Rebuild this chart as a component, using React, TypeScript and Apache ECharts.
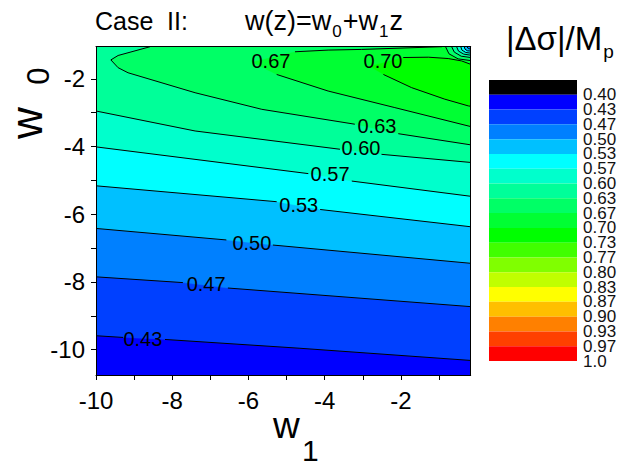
import React, { useEffect, useRef } from "react";
import * as echarts from "echarts";

const FONT = "Liberation Sans, Arial, Helvetica, sans-serif";

const W1_MIN = -10;
const W1_MAX = -0.17;
const W0_MIN = -10.75;
const W0_MAX = -1.05;

const xTickLabels = [-10, -8, -6, -4, -2];
const xTicks = [-10, -9, -8, -7, -6, -5, -4, -3, -2, -1];
const yTickLabels = [-10, -8, -6, -4, -2];
const yTicks = [-10, -9, -8, -7, -6, -5, -4, -3, -2];

// colour bands (top of colour bar first): below 0.40, 0.40-0.43, ... 0.97-1.0
const bandColors = [
  "#000000", "#0000ff", "#0040ff", "#0080ff", "#00c0ff", "#00ffff",
  "#00ffcc", "#00ff99", "#00ff66", "#00ff33", "#00ff00", "#40ff00",
  "#80ff00", "#c0ff00", "#ffff00", "#ffbf00", "#ff8000", "#ff4000", "#ff0000",
];
// labels sit on the band boundaries 1..19
const colorbarLabels = [
  "0.40", "0.43", "0.47", "0.50", "0.53", "0.57", "0.60", "0.63", "0.67",
  "0.70", "0.73", "0.77", "0.80", "0.83", "0.87", "0.90", "0.93", "0.97", "1.0",
];

// contour levels drawn in the map
const levelText = ["0.43", "0.47", "0.50", "0.53", "0.57", "0.60", "0.63", "0.67", "0.70"];

// contour lines, points as [w1, w0]
const line043 = [[-10, -9.59], [-9.29, -9.64], [-8.19, -9.7], [-4.65, -9.96], [-0.17, -10.32]];
const line047 = [[-10, -7.85], [-7.72, -8.02], [-6.54, -8.18], [-0.17, -8.73]];
const line050 = [[-10, -6.42], [-6.58, -6.76], [-5.36, -6.91], [-0.17, -7.45]];
const line053 = [[-10, -5.16], [-5.26, -5.63], [-4.12, -5.86], [-0.17, -6.37]];
const line057 = [[-10, -4.01], [-4.43, -4.8], [-3.29, -5.02], [-0.17, -5.47]];
const line060 = [[-10, -2.95], [-7.4, -3.54], [-3.6, -4.08], [-2.51, -4.23], [-0.17, -4.47]];
const line063 = [
  [-8.58, -1.05], [-9.42, -1.31], [-9.61, -1.44], [-9.42, -1.67], [-9.16, -1.82],
  [-7.4, -2.41], [-5.65, -2.9], [-3.21, -3.34], [-2.07, -3.62], [-0.17, -3.95],
];
const line067 = [
  [-0.92, -1.05], [-3.03, -1.13], [-3.91, -1.15], [-4.78, -1.2], [-5.91, -1.51],
  [-5.26, -1.87], [-3.91, -2.36], [-2.16, -2.85], [-0.24, -3.39], [-0.17, -3.41],
];
const line070 = [
  [-0.17, -1.57], [-0.41, -1.47], [-0.76, -1.4], [-1.28, -1.36], [-1.94, -1.37],
  [-2.81, -1.63], [-2.46, -1.87], [-1.72, -2.26], [-0.85, -2.6], [-0.23, -2.8], [-0.17, -2.81],
];
const contourLines = [line043, line047, line050, line053, line057, line060, line063, line067, line070];
// index of last point before the label gap and first point after it
const labelGaps = [[1, 2], [1, 2], [1, 2], [1, 2], [1, 2], [2, 3], [7, 8], [3, 5], [4, 6]];
// label positions [w1, w0]
const labelPos = [
  [-8.77, -9.68], [-7.11, -8.05], [-5.91, -6.85], [-4.68, -5.73], [-3.86, -4.82],
  [-3.05, -4.05], [-2.63, -3.4], [-5.41, -1.475], [-2.47, -1.475],
];
// how the region above each line is closed: via the top corners
const closeTopBoth = [[W1_MAX, W0_MAX], [W1_MIN, W0_MAX]];
const closeTopRight = [[W1_MAX, W0_MAX]];
const closures = [
  closeTopBoth, closeTopBoth, closeTopBoth, closeTopBoth, closeTopBoth, closeTopBoth,
  closeTopRight, closeTopRight, [],
];

// dense contours squeezed into the top-right corner
const cornerArcs = [
  [[-0.83, -1.05], [-0.74, -1.26], [-0.5, -1.41], [-0.17, -1.46]],
  [[-0.67, -1.05], [-0.6, -1.21], [-0.42, -1.33], [-0.17, -1.37]],
  [[-0.54, -1.05], [-0.49, -1.18], [-0.35, -1.27], [-0.17, -1.3]],
  [[-0.43, -1.05], [-0.4, -1.15], [-0.3, -1.22], [-0.17, -1.24]],
  [[-0.34, -1.05], [-0.32, -1.12], [-0.26, -1.17], [-0.17, -1.18]],
  [[-0.26, -1.05], [-0.25, -1.09], [-0.22, -1.11], [-0.17, -1.12]],
];
const cornerColors = ["#00ff66", "#00ff99", "#00ffcc", "#00ffff", "#00c0ff", "#0080ff"];

export default function App() {
  const ref = useRef<HTMLDivElement>(null);
  useEffect(() => {
    document.body.style.margin = "0";
    const chart = echarts.init(ref.current!, null, { renderer: "svg" });

    const fills: { pts: number[][]; color: string }[] = [];
    fills.push({
      pts: [[W1_MIN, W0_MIN], [W1_MAX, W0_MIN], [W1_MAX, W0_MAX], [W1_MIN, W0_MAX]],
      color: bandColors[1],
    });
    contourLines.forEach((ln, i) => {
      fills.push({ pts: [...ln, ...closures[i]], color: bandColors[i + 2] });
    });
    cornerArcs.forEach((arc, i) => {
      fills.push({ pts: [...arc, [W1_MAX, W0_MAX]], color: cornerColors[i] });
    });

    const segments: number[][][] = [];
    contourLines.forEach((ln, i) => {
      const [a, b] = labelGaps[i];
      segments.push(ln.slice(0, a + 1));
      segments.push(ln.slice(b));
    });
    cornerArcs.forEach((arc) => segments.push(arc));

    const txt = (text: string, fontSize: number) => ({
      text, fontSize, fontFamily: FONT, fill: "#000",
    });

    const option: any = {
      animation: false,
      backgroundColor: "#ffffff",
      grid: [
        { left: 96, top: 46.7, width: 374.7, height: 328.3 },
        { left: 489, top: 80, width: 88, height: 281 },
      ],
      xAxis: [
        {
          type: "value", gridIndex: 0, min: W1_MIN, max: W1_MAX, z: 10,
          axisLine: { show: true, onZero: false, lineStyle: { color: "#000", width: 1 } },
          axisTick: { show: true, customValues: xTicks, length: 5, inside: false, lineStyle: { color: "#000", width: 1 } },
          axisLabel: { customValues: xTickLabels, fontSize: 24, color: "#000", margin: 13, fontFamily: FONT },
          splitLine: { show: false },
        },
        {
          type: "value", gridIndex: 0, position: "top", min: W1_MIN, max: W1_MAX, z: 10,
          axisLine: { show: true, onZero: false, lineStyle: { color: "#000", width: 1 } },
          axisTick: { show: false }, axisLabel: { show: false }, splitLine: { show: false },
        },
        { type: "value", gridIndex: 1, min: 0, max: 1, show: false },
      ],
      yAxis: [
        {
          type: "value", gridIndex: 0, min: W0_MIN, max: W0_MAX, z: 10,
          axisLine: { show: true, onZero: false, lineStyle: { color: "#000", width: 1 } },
          axisTick: { show: true, customValues: yTicks, length: 5, inside: false, lineStyle: { color: "#000", width: 1 } },
          axisLabel: { customValues: yTickLabels, fontSize: 24, color: "#000", margin: 11, fontFamily: FONT },
          splitLine: { show: false },
        },
        {
          type: "value", gridIndex: 0, position: "right", min: W0_MIN, max: W0_MAX, z: 10,
          axisLine: { show: true, onZero: false, lineStyle: { color: "#000", width: 1 } },
          axisTick: { show: false }, axisLabel: { show: false }, splitLine: { show: false },
        },
        { type: "value", gridIndex: 1, min: 0, max: 19, inverse: true, show: false },
      ],
      series: [
        {
          type: "custom", xAxisIndex: 0, yAxisIndex: 0, clip: true, z: 2,
          data: fills.map((f) => f.pts[0]),
          renderItem: (params: any, api: any) => {
            const f = fills[params.dataIndex];
            return {
              type: "polygon",
              shape: { points: f.pts.map((p) => api.coord(p)) },
              style: { fill: f.color, stroke: f.color, lineWidth: 0.3 },
            };
          },
        },
        {
          type: "custom", xAxisIndex: 0, yAxisIndex: 0, clip: true, z: 3,
          data: segments.map((s) => s[0]),
          renderItem: (params: any, api: any) => {
            const s = segments[params.dataIndex];
            return {
              type: "polyline",
              shape: { points: s.map((p) => api.coord(p)) },
              style: { stroke: "#000", lineWidth: 1, fill: "none" },
            };
          },
        },
        {
          type: "custom", xAxisIndex: 0, yAxisIndex: 0, z: 4,
          data: labelPos,
          renderItem: (params: any, api: any) => {
            const p = api.coord(labelPos[params.dataIndex]);
            return {
              type: "text", x: p[0], y: p[1],
              style: {
                text: levelText[params.dataIndex], fontSize: 20, fontFamily: FONT, fill: "#000",
                align: "center", verticalAlign: "middle",
              },
            };
          },
        },
        {
          type: "custom", xAxisIndex: 2, yAxisIndex: 2,
          data: bandColors.map((_, i) => [0.5, i + 0.5]),
          renderItem: (params: any, api: any) => {
            const i = params.dataIndex;
            const p0 = api.coord([0, i]);
            const p1 = api.coord([1, i + 1]);
            return {
              type: "rect",
              shape: { x: p0[0], y: p0[1], width: p1[0] - p0[0], height: p1[1] - p0[1] },
              style: { fill: bandColors[i] },
            };
          },
        },
        {
          type: "custom", xAxisIndex: 2, yAxisIndex: 2,
          data: colorbarLabels.map((_, i) => [1, i + 1]),
          renderItem: (params: any, api: any) => {
            const i = params.dataIndex;
            const p = api.coord([1, i + 1]);
            return {
              type: "text", x: p[0] + 6, y: p[1],
              style: {
                text: colorbarLabels[i], fontSize: 17, lineHeight: 13, fontFamily: FONT, fill: "#111",
                align: "left", verticalAlign: "middle",
              },
            };
          },
        },
      ],
      graphic: [
        { type: "text", left: 95, top: 8, z: 20, style: txt("Case", 25) },
        { type: "text", left: 167, top: 8, z: 20, style: txt("II:", 25) },
        {
          type: "text", x: 245, y: 20.5, z: 20,
          style: {
            text: "{a|w(z)=w}{b|0}{a|+w}{b|1}{a|z}", fill: "#000", align: "left", verticalAlign: "middle",
            rich: {
              a: { fontSize: 27, fontFamily: FONT, fill: "#000" },
              b: { fontSize: 17, fontFamily: FONT, fill: "#000", padding: [22, 1, 0, 1] },
            },
          },
        },
        {
          type: "text", x: 506, y: 38, z: 20,
          style: {
            text: "{a|\u007c\u0394\u03c3\u007c/M}{b|p}", fill: "#000", align: "left", verticalAlign: "middle",
            rich: {
              a: { fontSize: 33, fontFamily: FONT, fill: "#000" },
              b: { fontSize: 19, fontFamily: FONT, fill: "#000", padding: [27, 0, 0, 1] },
            },
          },
        },
        // y-axis title w0 (rotated)
        {
          type: "text", x: 26, y: 123, rotation: Math.PI / 2, z: 20,
          style: { ...txt("w", 44), lineHeight: 36, align: "center", verticalAlign: "middle" },
        },
        {
          type: "text", x: 38, y: 76, rotation: Math.PI / 2, z: 20,
          style: { ...txt("0", 31), align: "center", verticalAlign: "middle" },
        },
        // x-axis title w1
        {
          type: "text", x: 273, y: 425.5, z: 20,
          style: { ...txt("w", 37), align: "left", verticalAlign: "middle" },
        },
        {
          type: "text", x: 302, y: 450.5, z: 20,
          style: { ...txt("1", 30), align: "left", verticalAlign: "middle" },
        },
      ],
    };
    chart.setOption(option);
    return () => chart.dispose();
  }, []);
  return <div ref={ref} style={{ width: 618, height: 466 }} />;
}
